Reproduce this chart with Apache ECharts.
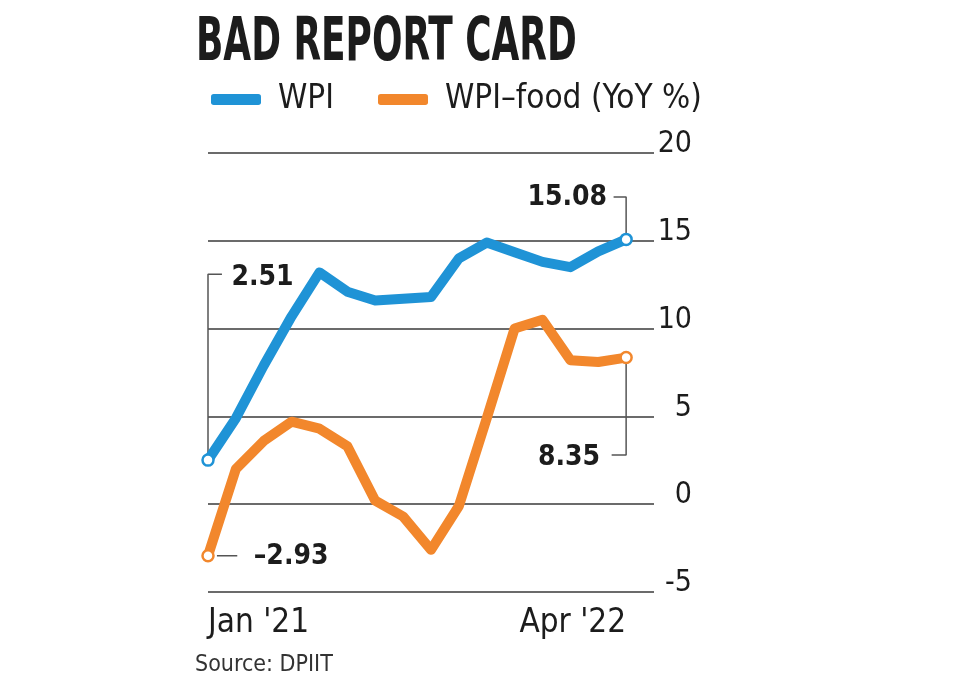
<!DOCTYPE html>
<html>
<head>
<meta charset="utf-8">
<script src="https://cdn.jsdelivr.net/npm/echarts@6/dist/echarts.min.js"></script>
<style>
html,body{margin:0;padding:0;background:#fff;}
#chart{width:980px;height:683px;}
</style>
</head>
<body>
<div id="chart"></div>
<script>
// ---- data ----
const months = ["Jan '21","Feb '21","Mar '21","Apr '21","May '21","Jun '21","Jul '21","Aug '21","Sep '21","Oct '21","Nov '21","Dec '21","Jan '22","Feb '22","Mar '22","Apr '22"];
const wpi  = [2.51, 4.9, 7.9, 10.7, 13.2, 12.1, 11.6, 11.7, 11.8, 14.0, 14.9, 14.35, 13.8, 13.5, 14.4, 15.08];
const food = [-2.93, 2.0, 3.6, 4.7, 4.3, 3.3, 0.2, -0.7, -2.6, -0.1, 4.9, 10.0, 10.5, 8.2, 8.1, 8.35];
const yTicks = [-5, 0, 5, 10, 15, 20];
const seriesNames = ['WPI', 'WPI\u2013food (YoY %)'];
const titleText = 'BAD REPORT CARD';
const sourceText = 'Source: DPIIT';

const FONT = "'DejaVu Sans Condensed', sans-serif";
const BLUE = '#1f93d6';
const ORANGE = '#f2872c';
const INK = '#1c1c1c';
const BRACKET = '#555555';

const last = months.length - 1;

function bracketSeries(data, labelText, pos, dist, offset) {
  return {
    type: 'line', xAxisIndex: 0, yAxisIndex: 0, silent: true, z: 1,
    symbol: 'circle', symbolSize: 1, showSymbol: true, showAllSymbol: true,
    itemStyle: { color: 'rgba(0,0,0,0)' },
    lineStyle: { color: BRACKET, width: 1.5 },
    label: { show: false },
    data: data.map((d, i) => i === data.length - 1 ? {
      value: d,
      label: {
        show: true, position: pos, distance: dist, offset: offset || [0, 0], formatter: labelText,
        fontFamily: FONT, fontWeight: 'bold', fontSize: 28, color: INK
      }
    } : { value: d }),
    animation: false
  };
}

const endSymbol = (arr, color) => arr.map((v, i) => ({
  value: [i, v],
  symbol: (i === 0 || i === last) ? 'circle' : 'none',
  symbolSize: 11,
  itemStyle: { color: '#fff', borderColor: color, borderWidth: 2.5 }
}));

const chart = echarts.init(document.getElementById('chart'), null, { renderer: 'canvas' });

const xBase = {
  type: 'value', min: 0, max: 16, interval: 1, gridIndex: 0, position: 'bottom',
  axisLine: { show: false }, axisTick: { show: false }, splitLine: { show: false }
};

chart.setOption({
  animation: false,
  backgroundColor: '#fff',
  title: [
    { text: sourceText, left: 190, top: 649,
      textStyle: { fontFamily: FONT, fontWeight: 'normal', fontSize: 23, color: '#333' } }
  ],
  graphic: [
    { type: 'text', x: 196, y: 14, scaleX: 0.665, scaleY: 1,
      style: { text: titleText, font: "bold 60px 'DejaVu Sans Condensed'", fill: INK, verticalAlign: 'top' } }
  ],
  legend: {
    left: 206, top: 78,
    itemWidth: 50, itemHeight: 11, itemGap: 44,
    icon: 'roundRect',
    textStyle: { fontFamily: FONT, fontSize: 33, color: INK, padding: [0, 0, 0, 12] },
    data: [
      { name: seriesNames[0], itemStyle: { color: BLUE } },
      { name: seriesNames[1], itemStyle: { color: ORANGE } }
    ]
  },
  grid: { left: 208, right: 326, top: 153, bottom: 91, containLabel: false },
  xAxis: [
    Object.assign({}, xBase, { axisLabel: { show: false } }),
    Object.assign({}, xBase, {
      axisLabel: { show: true, align: 'left', margin: 15, fontFamily: FONT, fontSize: 33, color: INK,
        formatter: v => v === 0 ? months[0] : '' }
    }),
    Object.assign({}, xBase, {
      axisLabel: { show: true, align: 'right', margin: 15, fontFamily: FONT, fontSize: 33, color: INK,
        formatter: v => v === last ? months[last] : '' }
    })
  ],
  yAxis: {
    type: 'value', position: 'right',
    min: yTicks[0], max: yTicks[yTicks.length - 1], interval: 5,
    axisLine: { show: false }, axisTick: { show: false },
    splitLine: { show: true, lineStyle: { color: '#3a3a3a', width: 1.6 } },
    axisLabel: { align: 'right', margin: 38, fontFamily: FONT, fontSize: 30, color: INK,
      verticalAlign: 'bottom', lineHeight: 17 }
  },
  series: [
    {
      name: seriesNames[0], type: 'line', xAxisIndex: 0, z: 3,
      data: endSymbol(wpi, BLUE),
      lineStyle: { color: BLUE, width: 10, cap: 'round', join: 'round' },
      itemStyle: { color: BLUE },
      showSymbol: true
    },
    {
      name: seriesNames[1], type: 'line', xAxisIndex: 0, z: 3,
      data: endSymbol(food, ORANGE),
      lineStyle: { color: ORANGE, width: 10, cap: 'round', join: 'round' },
      itemStyle: { color: ORANGE },
      showSymbol: true
    },
    // annotation brackets
    bracketSeries([[0, wpi[0]], [0, 13.1], [0.5, 13.1]], wpi[0].toFixed(2), 'right', 9, [0, 4]),
    bracketSeries([[0.32, food[0]], [1.05, food[0]]], '\u2013' + Math.abs(food[0]).toFixed(2), 'right', 16, [0, 1]),
    bracketSeries([[last, wpi[last]], [last, 17.5], [last - 0.45, 17.5]], wpi[last].toFixed(2), 'left', 6, [0, 1]),
    bracketSeries([[last, food[last]], [last, 2.8], [last - 0.52, 2.8]], food[last].toFixed(2), 'left', 11, [0, 3])
  ]
});
</script>
</body>
</html>
